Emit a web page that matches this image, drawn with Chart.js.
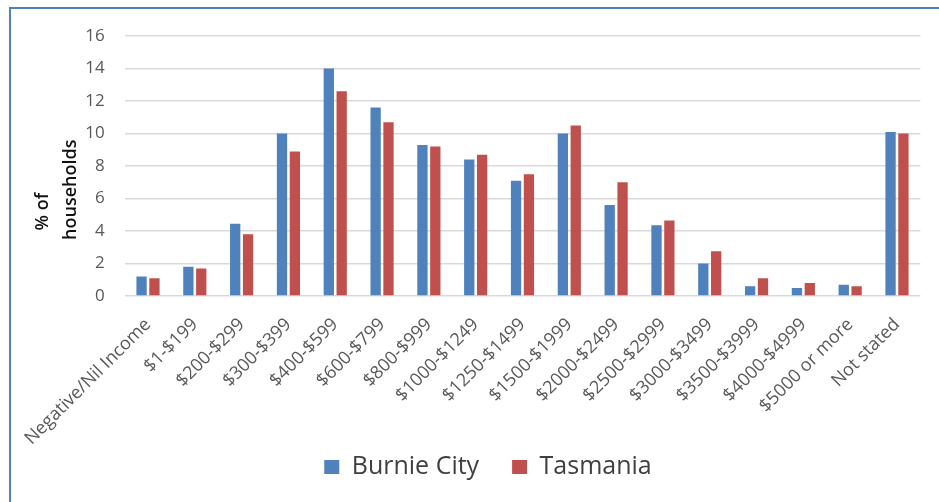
<!DOCTYPE html>
<html>
<head>
<meta charset="utf-8">
<script src="https://cdn.jsdelivr.net/npm/chart.js@4"></script>
<style>
  html, body { margin: 0; padding: 0; background: #fff; }
  #wrap { position: relative; width: 939px; height: 502px; overflow: hidden; }
  #frame { position: absolute; left: 9px; top: 7px; right: -4px; bottom: -4px;
           border-top: 2px solid #4f81bd; border-left: 2px solid #4f81bd; }
  #chart { position: absolute; left: 0; top: 0; }
</style>
</head>
<body>
<div id="wrap">
  <div id="frame"></div>
  <canvas id="chart" width="939" height="502"></canvas>
</div>
<script>
// ── Data ─────────────────────────────────────────────────────
const categories = [
  'Negative/Nil Income', '$1-$199', '$200-$299', '$300-$399', '$400-$599',
  '$600-$799', '$800-$999', '$1000-$1249', '$1250-$1499', '$1500-$1999',
  '$2000-$2499', '$2500-$2999', '$3000-$3499', '$3500-$3999', '$4000-$4999',
  '$5000 or more', 'Not stated',
];
const burnieCity = [1.2, 1.8, 4.45, 10.0, 14.0, 11.6, 9.3, 8.4, 7.1, 10.0, 5.6, 4.35, 2.0, 0.6, 0.5, 0.7, 10.1];
const tasmania   = [1.1, 1.7, 3.8, 8.9, 12.6, 10.7, 9.2, 8.7, 7.5, 10.5, 7.0, 4.65, 2.75, 1.1, 0.8, 0.6, 10.0];
const yTicks = [0, 2, 4, 6, 8, 10, 12, 14, 16];

const FONT = "'Open Sans', 'Liberation Sans', sans-serif";

// ── Chart ────────────────────────────────────────────────────
new Chart(document.getElementById('chart'), {
  type: 'bar',
  data: {
    labels: categories,
    datasets: [
      { label: 'Burnie City', data: burnieCity, backgroundColor: '#4f81bd' },
      { label: 'Tasmania', data: tasmania, backgroundColor: '#c0504d' },
    ],
  },
  options: {
    responsive: false,
    animation: false,
    categoryPercentage: 0.55,
    barPercentage: 0.8,
    layout: { padding: { top: 36, right: 18.6, bottom: 12.5, left: 55.6 } },
    plugins: {
      legend: {
        position: 'bottom',
        labels: {
          boxWidth: 15,
          boxHeight: 14,
          padding: 7,
          color: '#404040',
          font: { family: FONT, size: 25 },
          // small vertical padding keeps the rotated labels unclipped,
          // so the wider gap between the two items comes from trailing spaces
          generateLabels: (chart) => {
            const items = Chart.defaults.plugins.legend.labels.generateLabels(chart);
            items.forEach((it, i) => { if (i < items.length - 1) it.text += '    '; });
            return items;
          },
        },
      },
      tooltip: { enabled: false },
    },
    scales: {
      x: {
        grid: { display: false },
        border: { display: false },
        ticks: {
          color: '#595959',
          font: { family: FONT, size: 18 },
          minRotation: 45,
          maxRotation: 45,
          autoSkip: false,
          padding: 10,
        },
        afterFit: (s) => { s.height = 151.5; },
      },
      y: {
        min: yTicks[0],
        max: yTicks[yTicks.length - 1],
        afterBuildTicks: (s) => { s.ticks = yTicks.map(v => ({ value: v })); },
        grid: { color: '#d9d9d9', lineWidth: 1.5, drawTicks: false },
        border: { display: false },
        ticks: {
          color: '#595959',
          font: { family: FONT, size: 17 },
          padding: 20,
        },
        title: {
          display: true,
          align: 'start',
          // leading spaces lift the lines off the axis bottom, as in the original
          text: ['              % of', '            households'],
          color: '#111',
          font: { family: FONT, size: 18, weight: 600, lineHeight: 1.5556 },
          padding: { top: -26.6, bottom: 0 },
        },
        afterFit: (s) => { s.width = 69; },
      },
    },
  },
});
</script>
</body>
</html>
